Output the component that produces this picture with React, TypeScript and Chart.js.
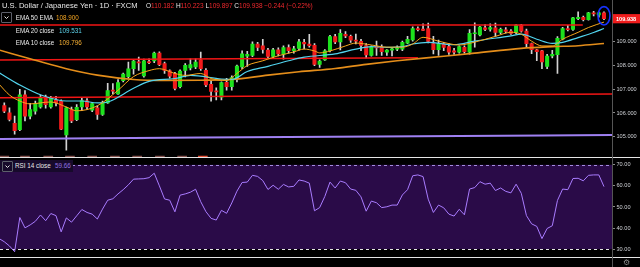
import React, { useEffect, useRef } from "react";
import { Chart, registerables } from "chart.js";

Chart.register(...registerables);

const FONT = "'Liberation Sans', Arial, sans-serif";

// Daily candles, index 0 = 8 Aug 2019 ... 116 = 21 Jan 2020
const OPEN = [106.31,106.01,105.57,105.30,106.76,105.87,106.08,106.25,106.62,106.25,
106.55,106.49,105.08,106.14,105.72,106.25,106.51,106.12,106.21,105.94,
106.42,106.95,106.80,107.35,107.52,107.85,108.13,107.55,108.15,108.17,
108.50,108.06,107.76,107.65,107.10,107.78,107.88,107.92,108.22,107.78,
107.20,106.93,106.66,107.28,107.10,107.48,107.92,108.37,108.40,108.88,
108.80,108.63,108.36,108.64,108.46,108.73,108.60,108.70,108.95,108.88,
108.83,108.03,108.22,108.60,109.19,108.97,109.28,109.20,109.05,108.99,
108.82,108.40,108.78,108.74,108.54,108.62,108.67,108.67,108.92,109.05,
109.52,109.50,109.53,108.90,108.64,108.88,108.77,108.60,108.54,108.74,
108.54,109.31,109.26,109.56,109.50,109.56,109.36,109.47,109.42,109.36,
109.67,109.42,108.90,108.64,108.60,107.95,108.38,108.44,109.08,109.52,
109.49,109.94,110.00,109.90,110.18,110.10,110.182];
const HIGH = [106.42,106.21,105.87,106.99,106.94,106.40,106.50,106.75,106.75,106.70,
106.70,106.55,106.25,106.25,106.35,106.65,106.60,106.45,106.30,106.50,
107.24,107.23,107.40,107.67,108.13,108.20,108.33,108.25,108.26,108.54,
108.55,108.13,107.80,107.70,107.80,108.06,108.26,108.26,108.54,107.85,
107.35,107.05,107.30,107.45,107.55,108.00,108.60,108.58,108.97,108.95,
109.08,108.70,108.70,108.72,108.80,108.85,108.78,109.08,109.08,109.29,
108.90,108.22,108.65,109.24,109.28,109.48,109.40,109.25,109.30,109.08,
108.90,108.80,109.00,108.85,108.65,108.72,108.80,109.00,109.20,109.60,
109.60,109.72,109.75,109.20,109.05,108.95,108.90,108.70,108.80,108.80,
109.48,109.77,109.62,109.69,109.72,109.75,109.55,109.57,109.48,109.69,
109.70,109.50,108.92,108.66,108.62,108.45,108.62,109.19,109.58,109.66,
110.00,110.22,110.05,110.20,110.25,110.22,110.223];
const LOW = [106.01,105.67,105.12,105.26,105.67,105.75,105.95,106.20,106.20,106.20,
106.30,105.30,104.45,105.60,105.68,106.10,106.15,106.05,105.73,105.90,
106.40,106.80,106.78,107.30,107.45,107.62,107.78,107.50,108.06,108.10,
107.98,107.65,107.45,106.96,107.05,107.51,107.80,107.85,107.78,107.10,
106.49,106.55,106.55,106.95,106.95,107.30,107.85,107.95,108.35,108.60,
108.50,108.30,108.30,108.38,108.25,108.50,108.50,108.62,108.68,108.75,
107.98,107.90,108.20,108.55,108.90,108.63,109.15,108.95,108.88,108.60,
108.30,108.37,108.40,108.40,108.40,108.38,108.60,108.60,108.90,109.00,
109.43,109.44,108.93,108.47,108.40,108.60,108.45,108.45,108.50,108.50,
108.46,108.75,109.22,109.44,109.42,109.20,109.30,109.34,109.28,109.30,
109.38,108.76,108.48,108.19,107.85,107.85,108.30,107.65,109.05,109.43,
109.45,109.90,109.84,109.88,110.05,110.00,109.897];
const CLOSE = [106.08,105.73,105.26,106.76,105.87,106.14,106.38,106.65,106.35,106.65,
106.42,105.32,106.21,105.67,106.24,106.52,106.25,106.39,105.94,106.45,
106.94,106.91,107.27,107.62,107.84,108.17,108.09,108.18,108.10,108.50,
108.02,107.78,107.54,107.03,107.75,107.99,108.02,108.13,107.85,107.17,
106.90,106.88,107.27,107.10,107.48,107.96,108.47,108.45,108.88,108.74,
108.65,108.36,108.64,108.47,108.73,108.60,108.68,108.97,108.88,108.81,
108.03,108.17,108.60,109.19,108.97,109.33,109.22,109.04,109.00,108.82,
108.43,108.74,108.72,108.56,108.63,108.68,108.69,108.95,109.08,109.53,
109.48,109.45,108.99,108.64,108.90,108.74,108.54,108.54,108.77,108.56,
109.33,109.34,109.59,109.49,109.57,109.36,109.49,109.41,109.32,109.67,
109.42,108.90,108.64,108.56,108.13,108.38,108.45,109.12,109.53,109.48,
109.97,110.00,109.90,110.18,110.14,110.18,109.938];

// RSI 14, first value belongs to index -1 (the candle just off the left edge)
const RSI_START = -1;
const RSI = [35.0,
33.5,31.5,28.8,45.0,40.1,41.5,43.2,46.2,43.5,46.9,
45.9,38.2,44.8,42.8,45.8,48.8,47.4,46.6,44.3,49.0,
53.2,53.9,56.2,58.2,60.5,63.2,63.3,63.4,63.9,66.0,
60.0,53.8,53.2,47.7,55.6,56.2,57.0,58.4,52.5,47.8,
44.6,43.8,48.4,47.0,51.9,57.5,61.6,61.8,65.0,64.5,
62.5,58.3,60.3,58.4,60.7,59.5,59.8,62.8,62.3,61.3,
48.2,49.7,55.0,61.8,59.0,62.3,61.5,58.5,57.9,54.8,
48.0,52.8,52.0,49.7,50.1,50.9,50.9,55.7,58.2,64.8,
65.2,64.4,53.7,47.4,50.9,49.6,46.6,45.7,48.9,46.3,
58.5,59.2,62.0,60.8,61.3,57.8,59.0,57.4,56.7,60.8,
56.5,45.9,42.0,40.8,35.0,39.8,41.1,53.1,58.5,58.2,
63.5,63.6,62.4,65.0,65.2,65.2,59.66];

// Moving averages: [candle index, value]
const EMA10 = [[-1,107.2],[1,106.75],[3,106.5],[5,106.38],[9,106.46],[12,106.25],[14,106.09],[18,106.3],[22,106.95],[25,107.52],[28,107.77],[30,107.85],[33,107.65],[35,107.57],[38,107.65],[40,107.44],[43,107.36],[45,107.65],[47,107.98],[50,108.18],[53,108.39],[56,108.55],[58,108.67],[60,108.59],[61,108.51],[63,108.59],[66,108.8],[68,108.92],[71,108.84],[74,108.75],[77,108.75],[79,108.88],[81,109.16],[84,109.0],[88,108.84],[91,108.96],[95,109.2],[98,109.37],[100,109.29],[102,109.0],[104,108.8],[106,108.8],[108,109.08],[111,109.37],[113,109.57],[116,109.796]];
const EMA20 = [[-1,107.68],[3,107.17],[7,106.76],[12,106.5],[15,106.5],[18,106.42],[20,106.46],[25,107.03],[28,107.32],[33,107.44],[36,107.57],[42,107.42],[44,107.4],[47,107.73],[51,107.95],[55,108.18],[58,108.33],[64,108.47],[68,108.67],[71,108.77],[74,108.74],[77,108.77],[79,108.88],[82,108.95],[87,108.85],[91,109.0],[98,109.22],[100,109.29],[103,109.08],[106,108.91],[108,108.95],[111,109.15],[114,109.36],[116,109.531]];
const EMA50 = [[-1,108.63],[6,108.2],[12,107.85],[18,107.58],[25,107.4],[31,107.36],[38,107.37],[44,107.4],[51,107.58],[57,107.72],[64,107.86],[70,108.03],[76,108.18],[85,108.37],[91,108.5],[100,108.7],[106,108.77],[111,108.81],[116,108.9]];
const LONG_MA = [[-1,104.91],[38,104.98],[80,105.03],[118,105.08]];

// drawn horizontal levels: [start index, start price, end index, end price]
const LEVELS = [
  [-1, 109.676, 111.9, 109.676],
  [-1, 108.21, 80, 108.31],
  [-1, 106.64, 118, 106.79],
];
// small event marks along the bottom of the price pane (candle index)
const EVENT_IDX = [0, 4, 8.5, 12.7, 17, 21.4, 25.7, 30.1, 34.4, 38.4];

const X_TICK_IDX = [7, 18, 27, 38, 47, 61, 72, 82, 92, 103, 115];
const X_TICK_TEXT = ["19", "Sep", "16", "Oct", "14", "Nov", "18", "Dec", "16", "2020", "20"];
const PRICE_TICKS = [105, 106, 107, 108, 109];
const RSI_TICKS = [30, 40, 50, 60, 70];
const LAST_PRICE = 109.938;

const UP = "#1de21d";
const DOWN = "#f21b1b";

const panePlugin = {
  id: "panes",
  beforeDatasetsDraw(chart: any) {
    const { ctx, chartArea } = chart;
    const r = chart.scales.rsi;
    const y70 = r.getPixelForValue(70);
    const y30 = r.getPixelForValue(30);
    ctx.save();
    ctx.fillStyle = "#2a0b48";
    ctx.fillRect(chartArea.left, y70, chartArea.right - chartArea.left, y30 - y70);
    ctx.setLineDash([3, 3]);
    ctx.lineWidth = 1;
    ctx.strokeStyle = "#a48be0";
    ctx.beginPath();
    ctx.moveTo(chartArea.left, Math.round(y70) + 0.5);
    ctx.lineTo(chartArea.right, Math.round(y70) + 0.5);
    ctx.stroke();
    ctx.strokeStyle = "#e4e4e4";
    ctx.beginPath();
    ctx.moveTo(chartArea.left, Math.round(y30) + 0.5);
    ctx.lineTo(chartArea.right, Math.round(y30) + 0.5);
    ctx.stroke();
    ctx.restore();
  },
  afterDraw(chart: any) {
    const { ctx, chartArea, width, height } = chart;
    const p = chart.scales.price;
    const x = chart.scales.x;
    ctx.save();
    // pane separators
    ctx.strokeStyle = "#e6e6e6";
    ctx.lineWidth = 1;
    [p.bottom, x.top].forEach((yy: number) => {
      const y = Math.round(yy) - 0.5;
      ctx.beginPath();
      ctx.moveTo(0, y);
      ctx.lineTo(width, y);
      ctx.stroke();
    });
    // price axis line
    ctx.strokeStyle = "#555";
    ctx.beginPath();
    ctx.moveTo(Math.round(chartArea.right) + 0.5, 0);
    ctx.lineTo(Math.round(chartArea.right) + 0.5, height);
    ctx.stroke();
    // last price label
    const py = p.getPixelForValue(LAST_PRICE);
    ctx.fillStyle = "#f01c1c";
    ctx.fillRect(chartArea.right + 1, py - 4.6, width - chartArea.right - 1, 9.2);
    ctx.fillStyle = "#ffffff";
    ctx.font = "bold 5.6px " + FONT;
    ctx.textBaseline = "middle";
    ctx.textAlign = "left";
    ctx.fillText(LAST_PRICE.toFixed(3), chartArea.right + 4, py + 0.3);
    // highlight ring around the last candle
    const last = OPEN.length - 1;
    const cx = x.getPixelForValue(last);
    const cy = p.getPixelForValue((HIGH[last] + LOW[last]) / 2);
    ctx.strokeStyle = "#1733ff";
    ctx.lineWidth = 1.6;
    ctx.beginPath();
    ctx.ellipse(cx, cy, 6, 9.2, 0, 0, Math.PI * 2);
    ctx.stroke();
    ctx.restore();
  },
};

function Chevron({ left, top }: { left: number; top: number }) {
  return (
    <div
      style={{
        position: "absolute",
        left,
        top,
        width: 9,
        height: 9,
        border: "1px solid #5d606b",
        borderRadius: 1,
        boxSizing: "content-box",
      }}
    >
      <svg width="9" height="9" style={{ display: "block" }}>
        <polyline points="2.5,3.5 4.5,5.5 6.5,3.5" fill="none" stroke="#e0e0e0" strokeWidth="1" />
      </svg>
    </div>
  );
}

function T({ left, cy, size, color, children, weight }: any) {
  return (
    <div
      style={{
        position: "absolute",
        left,
        top: cy - size * 0.58,
        fontSize: size,
        lineHeight: 1.15 + "",
        color,
        fontFamily: FONT,
        fontWeight: weight || 400,
        whiteSpace: "pre",
      }}
    >
      {children}
    </div>
  );
}

export default function App() {
  const canvasRef = useRef<HTMLCanvasElement | null>(null);

  useEffect(() => {
    document.body.style.margin = "0";
    document.body.style.background = "#000";
    const pts = (arr: number[][]) => arr.map(([x, y]) => ({ x, y }));
    const lineDs = (data: any[], color: string, w: number) => ({
      type: "line",
      data,
      yAxisID: "price",
      borderColor: color,
      borderWidth: w,
      pointRadius: 0,
      cubicInterpolationMode: "monotone",
      fill: false,
    });
    const levelDs = LEVELS.map(([x1, y1, x2, y2]) => ({
      type: "line",
      data: [{ x: x1, y: y1 }, { x: x2, y: y2 }],
      yAxisID: "price",
      borderColor: "#f21515",
      borderWidth: 1.5,
      pointRadius: 0,
      tension: 0,
    }));
    const chart = new Chart(canvasRef.current as HTMLCanvasElement, {
      type: "bar",
      data: {
        datasets: [
          lineDs(pts(EMA10), "#f7a51c", 1),
          lineDs(pts(EMA20), "#52d4ee", 1.2),
          lineDs(pts(EMA50), "#e48d1a", 1.6),
          ...levelDs,
          lineDs(pts(LONG_MA), "#9f80f2", 2),
          {
            type: "bar",
            data: OPEN.map((o, i) => ({ x: i, y: [o, CLOSE[i]] })),
            yAxisID: "price",
            backgroundColor: OPEN.map((o, i) => (CLOSE[i] >= o ? UP : DOWN)),
            barThickness: 3.4,
            minBarLength: 1,
            grouped: false,
            borderWidth: 0,
          },
          {
            type: "bar",
            data: LOW.map((l, i) => ({ x: i, y: [l, HIGH[i]] })),
            yAxisID: "price",
            backgroundColor: "#d2d2d2",
            barThickness: 1,
            grouped: false,
            borderWidth: 0,
          },
          {
            type: "bar",
            data: EVENT_IDX.map((v) => ({ x: v, y: [104.15, 104.2] })),
            yAxisID: "price",
            backgroundColor: EVENT_IDX.map((_, k) =>
              k === EVENT_IDX.length - 1 ? "rgba(255,90,60,0.9)" : "rgba(240,150,140,0.55)"
            ),
            barThickness: 9,
            grouped: false,
            borderWidth: 0,
          },
          {
            type: "line",
            data: RSI.map((v, k) => ({ x: k + RSI_START, y: v })),
            yAxisID: "rsi",
            borderColor: "#a97cff",
            borderWidth: 1,
            pointRadius: 0,
            tension: 0,
          },
        ] as any,
      },
      options: {
        animation: false,
        responsive: false,
        maintainAspectRatio: false,
        devicePixelRatio: 1,
        events: [],
        layout: { padding: 0 },
        plugins: { legend: { display: false }, tooltip: { enabled: false } },
        scales: {
          x: {
            type: "linear",
            min: -0.832,
            max: 117.55,
            offset: false,
            grid: { display: false },
            border: { display: false },
            afterBuildTicks: (s: any) => {
              s.ticks = X_TICK_IDX.map((v) => ({ value: v }));
            },
            afterFit: (s: any) => {
              s.height = 9;
            },
            ticks: {
              autoSkip: false,
              maxRotation: 0,
              padding: 1.5,
              color: "#a9acb5",
              font: { size: 6.3, family: FONT },
              callback: (v: any) => {
                const k = X_TICK_IDX.indexOf(Number(v));
                return k >= 0 ? X_TICK_TEXT[k] : "";
              },
            },
          },
          price: {
            type: "linear",
            position: "right",
            stack: "panes",
            stackWeight: 156,
            min: 104.123,
            max: 110.516,
            grid: { display: true, drawOnChartArea: false, drawTicks: true, tickLength: 3, color: "#8a8a8a" },
            border: { display: false },
            afterBuildTicks: (s: any) => {
              s.ticks = PRICE_TICKS.map((v) => ({ value: v }));
            },
            afterFit: (s: any) => {
              s.width = 28;
            },
            ticks: {
              padding: 1.5,
              color: "#cfd1d6",
              font: { size: 5.6, family: FONT },
              callback: (v: any) => Number(v).toFixed(3),
            },
          },
          rsi: {
            type: "linear",
            position: "right",
            stack: "panes",
            stackWeight: 102,
            min: 25.81,
            max: 73.26,
            grid: { display: true, drawOnChartArea: false, drawTicks: true, tickLength: 3, color: "#8a8a8a" },
            border: { display: false },
            afterBuildTicks: (s: any) => {
              s.ticks = RSI_TICKS.map((v) => ({ value: v }));
            },
            afterFit: (s: any) => {
              s.width = 28;
            },
            ticks: {
              padding: 1.5,
              color: "#cfd1d6",
              font: { size: 5.6, family: FONT },
              callback: (v: any) => Number(v).toFixed(2),
            },
          },
        },
      } as any,
      plugins: [panePlugin],
    });
    return () => chart.destroy();
  }, []);

  const red = "#f0282d";
  return (
    <div style={{ position: "relative", width: 640, height: 267, background: "#000", overflow: "hidden" }}>
      <canvas ref={canvasRef} width={640} height={267} style={{ display: "block", width: 640, height: 267 }} />
      <T left={2} cy={6} size={7.6} color="#e8e8e8">U.S. Dollar / Japanese Yen · 1D · FXCM</T>
      <T left={146} cy={6} size={6.5} color="#e8e8e8">
        O<span style={{ color: red }}>110.182</span> H<span style={{ color: red }}>110.223</span> L
        <span style={{ color: red }}>109.897</span> C<span style={{ color: red }}>109.938</span>{" "}
        <span style={{ color: red }}>−0.244 (−0.22%)</span>
      </T>
      <Chevron left={1} top={12} />
      <T left={15.7} cy={17.3} size={6.3} color="#e8e8e8">EMA 50 EMA</T>
      <T left={56} cy={17.3} size={6.3} color="#f5a623">108.900</T>
      <T left={15.7} cy={30.7} size={6.3} color="#e8e8e8">EMA 20 close</T>
      <T left={59} cy={30.7} size={6.3} color="#5fd6ee">109.531</T>
      <T left={15.7} cy={42.7} size={6.3} color="#e8e8e8">EMA 10 close</T>
      <T left={59} cy={42.7} size={6.3} color="#f8b133">109.796</T>
      <div style={{ position: "absolute", left: 0, top: 160, width: 73, height: 12, background: "#170a2b" }} />
      <Chevron left={1.5} top={160.5} />
      <T left={15} cy={165.7} size={6.3} color="#e8e8e8">RSI 14 close</T>
      <T left={55} cy={165.7} size={6.3} color="#9371e0">59.66</T>
      <T left={623} cy={262.5} size={8} color="#8a8a8a">⚙</T>
    </div>
  );
}
